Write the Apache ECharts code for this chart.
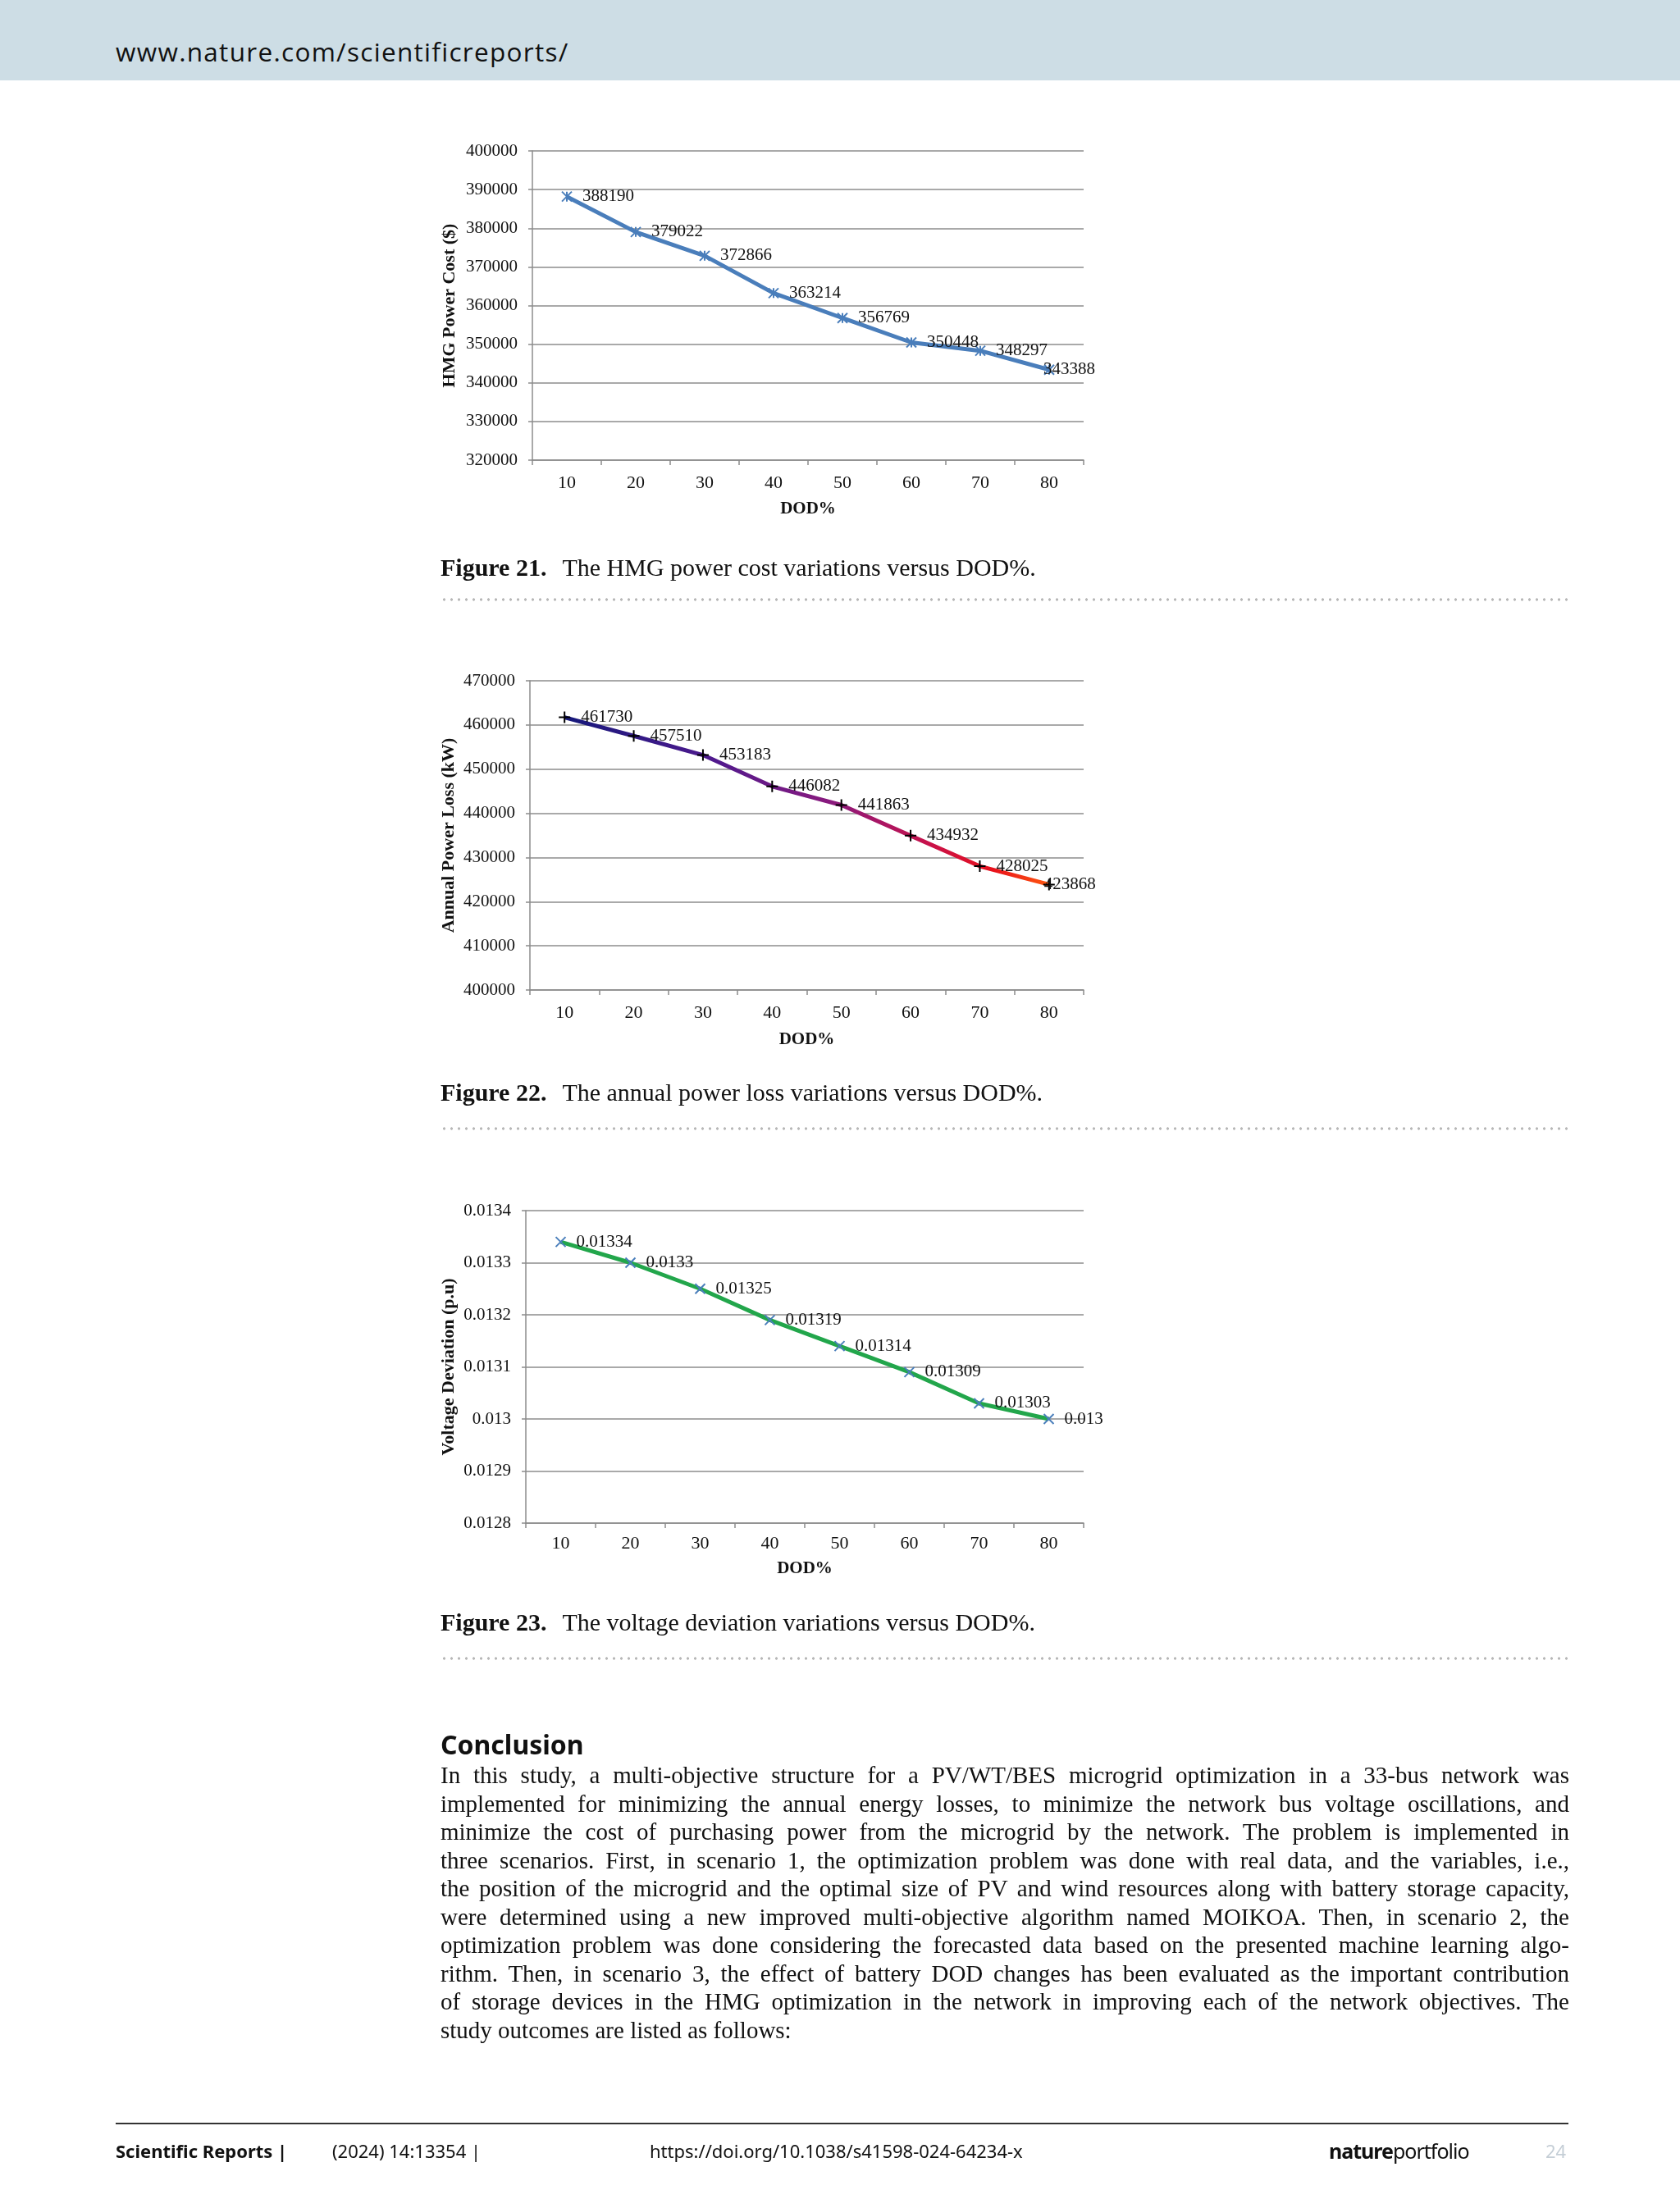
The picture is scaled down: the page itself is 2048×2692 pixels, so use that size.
<!DOCTYPE html>
<html>
<head>
<meta charset="utf-8">
<script src="https://cdn.jsdelivr.net/npm/echarts@6/dist/echarts.min.js"></script>
<style>
  body { margin: 0; background: #fff; width: 2048px; height: 2692px; position: relative; overflow: hidden; }
  #header { position: absolute; left: 0; top: 0; width: 2048px; height: 98px; background: #cddde5; }
  #header span { position: absolute; left: 141px; top: 43px; font-family: "Open Sans", sans-serif; font-size: 31.5px; line-height: 40px; letter-spacing: 1.3px; color: #111; }
  #charts { position: absolute; left: 0; top: 0; width: 2048px; height: 2692px; }
  .cap { position: absolute; left: 537px; font-family: "Liberation Serif", serif; font-size: 30px; line-height: 36px; color: #111; white-space: nowrap; }
  .cap b { margin-right: 12px; }
  .dots { position: absolute; left: 537px; width: 1376px; height: 4px;
          background-image: radial-gradient(circle, #b8b8b8 1.4px, transparent 1.9px);
          background-size: 9px 4px; }
  #concl { position: absolute; left: 537px; top: 2107px; font-family: "Noto Sans", sans-serif; font-weight: bold; font-size: 32px; line-height: 40px; color: #111; }
  #body { position: absolute; left: 537px; top: 2147px; width: 1376px; font-family: "Liberation Serif", serif; font-size: 29px; line-height: 34.5px; word-spacing: -3px; color: #111; }
  #body div { text-align: justify; text-align-last: justify; }
  #body div.last { text-align-last: left; word-spacing: 0; }
  #footline { position: absolute; left: 141px; top: 2588px; width: 1771px; height: 2px; background: #333; }
  .foot { position: absolute; top: 2606px; font-family: "Noto Sans", sans-serif; font-size: 22px; line-height: 32px; color: #111; white-space: nowrap; }
</style>
</head>
<body>
<div id="header"><span>www.nature.com/scientificreports/</span></div>
<div id="charts"></div>

<div class="cap" style="top:674px"><b>Figure 21.</b> The HMG power cost variations versus DOD%.</div>
<div class="dots" style="top:729px"></div>
<div class="cap" style="top:1314px"><b>Figure 22.</b> The annual power loss variations versus DOD%.</div>
<div class="dots" style="top:1374px"></div>
<div class="cap" style="top:1960px"><b>Figure 23.</b> The voltage deviation variations versus DOD%.</div>
<div class="dots" style="top:2020px"></div>

<div id="concl">Conclusion</div>
<div id="body">
<div>In this study, a multi-objective structure for a PV/WT/BES microgrid optimization in a 33-bus network was</div>
<div>implemented for minimizing the annual energy losses, to minimize the network bus voltage oscillations, and</div>
<div>minimize the cost of purchasing power from the microgrid by the network. The problem is implemented in</div>
<div>three scenarios. First, in scenario 1, the optimization problem was done with real data, and the variables, i.e.,</div>
<div>the position of the microgrid and the optimal size of PV and wind resources along with battery storage capacity,</div>
<div>were determined using a new improved multi-objective algorithm named MOIKOA. Then, in scenario 2, the</div>
<div>optimization problem was done considering the forecasted data based on the presented machine learning algo-</div>
<div>rithm. Then, in scenario 3, the effect of battery DOD changes has been evaluated as the important contribution</div>
<div>of storage devices in the HMG optimization in the network in improving each of the network objectives. The</div>
<div class="last">study outcomes are listed as follows:</div>
</div>

<div id="footline"></div>
<div class="foot" style="left:141px;font-weight:bold;">Scientific Reports |</div>
<div class="foot" style="left:405px;">(2024) 14:13354 |</div>
<div class="foot" style="left:792px;">https://doi.org/10.1038/s41598-024-64234-x</div>
<div class="foot" style="left:1620px;font-size:25px;letter-spacing:-1px;"><b>nature</b>portfolio</div>
<div class="foot" style="left:1884px;color:#c5ced6;">24</div>

<script>
var chart = echarts.init(document.getElementById('charts'));

// data
var dod = ['10', '20', '30', '40', '50', '60', '70', '80'];
var powerCost = [388190, 379022, 372866, 363214, 356769, 350448, 348297, 343388];
var powerLoss = [461730, 457510, 453183, 446082, 441863, 434932, 428025, 423868];
var voltageDev = [0.01334, 0.0133, 0.01325, 0.01319, 0.01314, 0.01309, 0.01303, 0.013];

var serif = 'Liberation Serif';
var gridGray = '#8c8c8c';

var starMark = 'path://M0,0L10,10M10,0L0,10M5,0L5,10';
var plusMark = 'path://M5,0L5,10M0,5L10,5';
var crossMark = 'path://M0,0L10,10M10,0L0,10';

function plain(v) {
    return String(parseFloat(v.toFixed(4)));
}

function xAx(idx, gap, margin) {
    return {
        type: 'category',
        gridIndex: idx,
        data: dod,
        name: 'DOD%',
        nameLocation: 'middle',
        nameGap: gap,
        nameTextStyle: { fontFamily: serif, fontWeight: 'bold', fontSize: 21, color: '#111' },
        axisLine: { lineStyle: { color: gridGray, width: 1.5 } },
        axisTick: { show: true, length: 6, lineStyle: { color: gridGray, width: 1.5 } },
        axisLabel: { fontFamily: serif, fontSize: 22, color: '#111', margin: margin },
        splitLine: { show: false }
    };
}

function yAx(idx, name, gap, min, max, step) {
    return {
        type: 'value',
        gridIndex: idx,
        min: min,
        max: max,
        interval: step,
        name: name,
        nameLocation: 'middle',
        nameRotate: 90,
        nameGap: gap,
        nameTextStyle: { fontFamily: serif, fontWeight: 'bold', fontSize: 22, color: '#111' },
        axisLine: { show: true, lineStyle: { color: gridGray, width: 1.5 } },
        axisTick: { show: true, length: 5, lineStyle: { color: gridGray, width: 1.5 } },
        axisLabel: { fontFamily: serif, fontSize: 21, color: '#111', margin: 18, formatter: plain },
        splitLine: { show: true, lineStyle: { color: gridGray, width: 1.5 } }
    };
}

function lbl() {
    return { show: true, position: 'right', distance: 12, fontFamily: serif, fontSize: 21, color: '#111' };
}

// last label sits back over its marker, as in the original
function pullLast(params) {
    if (params.dataIndex === dod.length - 1) {
        return { dx: -26 };
    }
}

var option = {
    animation: false,
    grid: [
        { left: 649, top: 184, width: 672, height: 377 },
        { left: 646, top: 830, width: 675, height: 377 },
        { left: 641, top: 1476, width: 680, height: 381 }
    ],
    xAxis: [xAx(0, 49, 17), xAx(1, 50, 17), xAx(2, 45, 14)],
    yAxis: [
        yAx(0, 'HMG Power Cost ($)', 90, 320000, 400000, 10000),
        yAx(1, 'Annual Power Loss (kW)', 88, 400000, 470000, 10000),
        yAx(2, 'Voltage Deviation (p.u)', 83, 0.0128, 0.0134, 0.0001)
    ],
    series: [
        {
            type: 'line',
            xAxisIndex: 0, yAxisIndex: 0,
            data: powerCost,
            symbol: starMark,
            symbolSize: 12,
            itemStyle: { color: 'transparent', borderColor: '#4a7ebb', borderWidth: 2 },
            lineStyle: { color: '#4a7ebb', width: 5 },
            label: lbl(),
            labelLayout: pullLast
        },
        {
            type: 'line',
            xAxisIndex: 1, yAxisIndex: 1,
            data: powerLoss,
            symbol: plusMark,
            symbolSize: 14,
            itemStyle: { color: 'transparent', borderColor: '#000', borderWidth: 2 },
            lineStyle: {
                width: 5,
                color: new echarts.graphic.LinearGradient(0, 0, 1, 0, [
                    { offset: 0, color: '#14187a' },
                    { offset: 0.3, color: '#4e1a8e' },
                    { offset: 0.55, color: '#8a1a7e' },
                    { offset: 0.75, color: '#c8124a' },
                    { offset: 0.88, color: '#e8101c' },
                    { offset: 1, color: '#ff5a10' }
                ])
            },
            label: lbl(),
            labelLayout: pullLast
        },
        {
            type: 'line',
            xAxisIndex: 2, yAxisIndex: 2,
            data: voltageDev,
            symbol: crossMark,
            symbolSize: 12,
            itemStyle: { color: 'transparent', borderColor: '#4a7ebb', borderWidth: 2 },
            lineStyle: { color: '#22a64b', width: 5 },
            label: lbl()
        }
    ]
};
chart.setOption(option);
</script>
</body>
</html>
